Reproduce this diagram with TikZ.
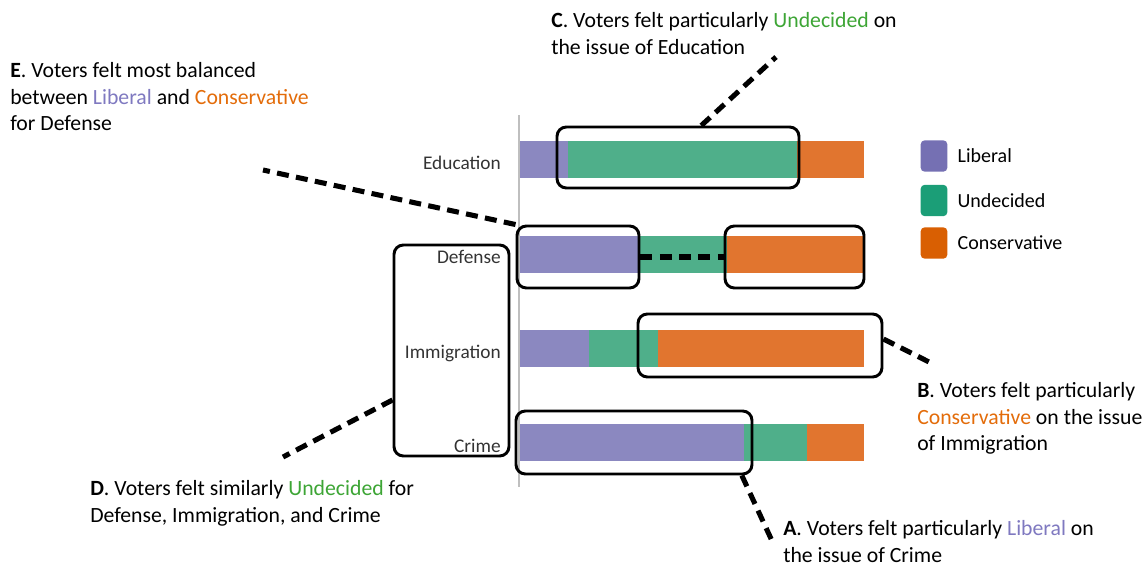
\documentclass[tikz,border=0pt]{standalone}
\usepackage{fontspec}
\setmainfont{Carlito}
\usepackage{tikz}
\usetikzlibrary{positioning}
\usetikzlibrary{fit}
\definecolor{libbar}{HTML}{8B88C0}
\definecolor{undbar}{HTML}{4FAF8A}
\definecolor{conbar}{HTML}{E1752F}
\definecolor{libkey}{HTML}{7570B3}
\definecolor{undkey}{HTML}{1B9E77}
\definecolor{conkey}{HTML}{D95F02}
\definecolor{libtxt}{HTML}{7F79C0}
\definecolor{undtxt}{HTML}{3DA535}
\definecolor{contxt}{HTML}{E36C0A}
\tikzstyle{hlbox}=[draw,line width=2.2pt,rounded corners=7pt,inner sep=0pt]
\tikzstyle{leader}=[draw,line width=3.8pt,dash pattern=on 9pt off 5.5pt]
\tikzstyle{note}=[anchor=north west,align=left,inner sep=0pt,font=\fontsize{16.3}{20}\selectfont]
\tikzstyle{rowlabel}=[anchor=base east,inner sep=0pt,font=\fontsize{14.5}{17}\selectfont,text=black!80]
\tikzstyle{keybox}=[rounded corners=3pt,minimum width=20pt,minimum height=23.5pt,inner sep=0pt]
\tikzstyle{keylabel}=[font=\fontsize{15}{18}\selectfont]

\begin{document}
\begin{tikzpicture}[x=0.75pt,y=-0.75pt]
    \useasboundingbox (0,0) rectangle (1145,567);

    % axis
    \draw[black!25, line width=1.1pt] (519,115) -- (519,487);

    % stacked bars
    \foreach \y/\a/\b in { 159.5/568/797, 254/638/727, 348/589/658, 442.5/744/807 } {
        \fill[libbar] (520,\y-18.5) rectangle (\a,\y+18.5);
        \fill[undbar] (\a,\y-18.5) rectangle (\b,\y+18.5);
        \fill[conbar] (\b,\y-18.5) rectangle (864,\y+18.5);
    }

    \foreach \name/\y in { Education/169, Defense/263, Immigration/358, Crime/452 }
        \node[rowlabel] (lab\name) at (501,\y) {\name};

    % legend
    \node[keybox, fill=libkey] (keyLib) at (934,156) {};
    \node[keybox, fill=undkey] (keyUnd) at (934,200.5) {};
    \node[keybox, fill=conkey] (keyCon) at (934,243) {};
    \node[keylabel, right=4pt of keyLib] (keyLibText) {Liberal};
    \node[keylabel, right=4pt of keyUnd] (keyUndText) {Undecided};
    \node[keylabel, right=4pt of keyCon] (keyConText) {Conservative};

    % highlight boxes
    \node[hlbox, fit={(557,127) (799,188)}] (boxC) {};
    \node[hlbox, fit={(517,226) (639,288)}] (boxDefL) {};
    \node[hlbox, fit={(725,226) (864,288)}] (boxDefR) {};
    \node[hlbox, fit={(638,314) (882,377)}] (boxB) {};
    \node[hlbox, fit={(516,411) (752,474)}] (boxA) {};
    \node[hlbox, fit={(394,245) (509,456)}] (boxD) {};

    % notes
    \node[note] (noteC) at (551,12) {\textbf{C}. Voters felt particularly \textcolor{undtxt}{Undecided} on\\the issue of Education};
    \node[note] (noteE) at (10,62) {\textbf{E}. Voters felt most balanced\\between \textcolor{libtxt}{Liberal} and \textcolor{contxt}{Conservative}\\for Defense};
    \node[note] (noteB) at (917,382) {\textbf{B}. Voters felt particularly\\\textcolor{contxt}{Conservative} on the issue\\of Immigration};
    \node[note] (noteD) at (90,480) {\textbf{D}. Voters felt similarly \textcolor{undtxt}{Undecided} for\\Defense, Immigration, and Crime};
    \node[note] (noteA) at (783,520) {\textbf{A}. Voters felt particularly \textcolor{libtxt}{Liberal} on\\the issue of Crime};

    % leader lines
    \coordinate (tipC) at (776,57);
    \coordinate (tipE) at (263,170);
    \coordinate (tipB) at (935,365);
    \coordinate (tipD) at (283,457);
    \coordinate (tipA) at (773,543);

    \path[leader] (boxC.54) -- (tipC);
    \path[leader] (boxDefL.north west) -- (tipE);
    \path[leader] (boxDefL.east) -- (boxDefR.west);
    \path[leader] (boxB.3) -- (tipB);
    \path[leader] (boxD.220) -- (tipD);
    \path[leader] (boxA.343) -- (tipA);

\end{tikzpicture}
\end{document}
